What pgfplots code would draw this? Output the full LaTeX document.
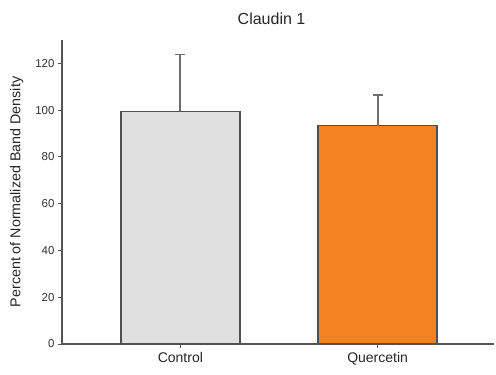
\documentclass[border=0pt]{standalone}
\usepackage{fontspec}
\setmainfont{Liberation Sans}
\usepackage{pgfplots}
\pgfplotsset{compat=1.18}
\definecolor{ctrlfill}{HTML}{E0E0E0}
\definecolor{quercfill}{HTML}{F58220}
\definecolor{edgegray}{HTML}{505050}
\definecolor{errgray}{HTML}{6E6E6E}
\definecolor{axgray}{HTML}{555555}
\begin{document}
\begin{tikzpicture}
\useasboundingbox (0,0) rectangle (496bp,375bp);
\begin{axis}[
  at={(62bp,31bp)}, anchor=south west,
  scale only axis,
  width=432bp, height=304bp,
  xmin=-0.6, xmax=1.59,
  ymin=0, ymax=130,
  axis x line*=bottom, axis y line*=left,
  axis line style={-, axgray, line width=1.3bp},
  tick style={axgray, line width=1bp},
  tick align=outside,
  major tick length=4bp,
  xtick={0,1}, xticklabels={Control,Quercetin},
  ytick={0,20,...,120},
  /pgf/number format/assume math mode=true,
  yticklabel style={font=\fontsize{11.5bp}{13bp}\selectfont, text=black!80},
  xticklabel style={font=\fontsize{14bp}{16bp}\selectfont, text=black!85, yshift=-1bp},
  ylabel={Percent of Normalized Band Density},
  ylabel style={font=\fontsize{14.3bp}{16bp}\selectfont, text=black!85, yshift=5bp},
  title={Claudin 1},
  title style={font=\fontsize{16bp}{18bp}\selectfont, text=black!85, at={(0.485,1)}, yshift=6bp},
  clip=false,
]
\addplot[ybar, bar width=119bp, fill=ctrlfill, draw=edgegray, line width=1.4bp,
  error bars/.cd, y dir=plus, y explicit,
  error bar style={errgray, line width=1.8bp},
  error mark options={rotate=90, mark size=5bp, line width=1.8bp, errgray}]
  coordinates {(0,99.5) +- (0,24.3)};
\addplot[ybar, bar width=119bp, fill=quercfill, draw=edgegray, line width=1.4bp,
  error bars/.cd, y dir=plus, y explicit,
  error bar style={errgray, line width=1.8bp},
  error mark options={rotate=90, mark size=5bp, line width=1.8bp, errgray}]
  coordinates {(1,93.4) +- (0,13.2)};
\end{axis}
\end{tikzpicture}
\end{document}
